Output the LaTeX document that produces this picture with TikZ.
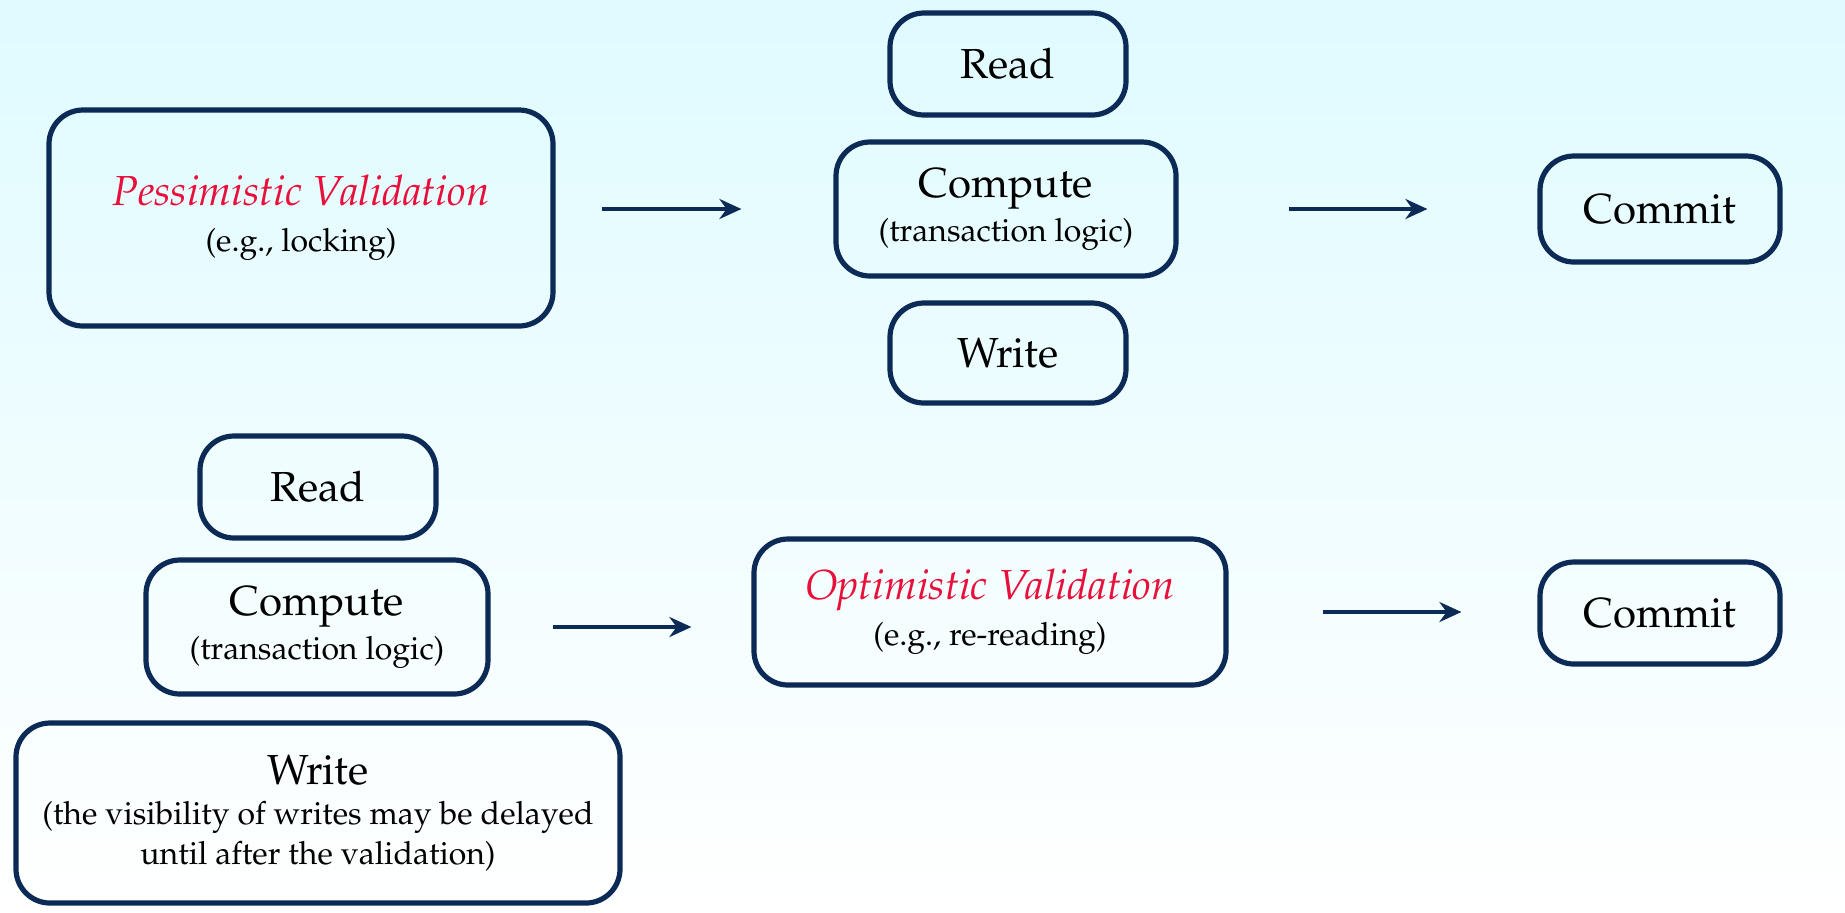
\documentclass[tikz,border=0pt]{standalone}
\usepackage[T1]{fontenc}
\usepackage{mathpazo}
\usetikzlibrary{arrows.meta}

\definecolor{inkblue}{HTML}{0B2A55}
\definecolor{hotred}{HTML}{E8103A}
\definecolor{skytop}{HTML}{DFFBFF}

\newcommand{\bigtext}{\fontsize{21}{20}\selectfont}
\newcommand{\smalltext}{\fontsize{16}{20}\selectfont}

\tikzset{
  stagebox/.style={draw=inkblue, line width=2.6pt, rounded corners=17pt,
    align=center, inner sep=0pt, font=\bigtext},
  flow/.style={draw=inkblue, line width=2pt, -{Stealth[length=11pt,width=10pt]}}
}

\begin{document}
\begin{tikzpicture}[x=0.5pt, y=-0.5pt]
    % Background.
    \shade[top color=skytop, bottom color=white] (0,0) rectangle (1845,912);
    \useasboundingbox (0,0) rectangle (1845,912);

    % Pessimistic row.
    \node[stagebox, minimum width=252pt, minimum height=108pt] (pessim) at (301,218)
        {\textcolor{hotred}{\itshape Pessimistic Validation}\\[3pt]\smalltext (e.g., locking)};
    \node[stagebox, minimum width=118pt, minimum height=51pt] (readA) at (1008,64) {Read};
    \node[stagebox, minimum width=170pt, minimum height=67pt] (computeA) at (1006,209)
        {Compute\\[2pt]\smalltext (transaction logic)};
    \node[stagebox, minimum width=118pt, minimum height=50pt] (writeA) at (1008,353) {Write};
    \node[stagebox, minimum width=120pt, minimum height=53pt] (commitA) at (1660,209) {Commit};

    % Optimistic row.
    \node[stagebox, minimum width=118pt, minimum height=51pt] (readB) at (318,487) {Read};
    \node[stagebox, minimum width=171pt, minimum height=67pt] (computeB) at (317,627)
        {Compute\\[2pt]\smalltext (transaction logic)};
    \node[stagebox, minimum width=302pt, minimum height=90pt] (writeB) at (318,813)
        {Write\\[0pt]\smalltext (the visibility of writes may be delayed\\\smalltext until after the validation)};
    \node[stagebox, minimum width=236pt, minimum height=73pt] (optim) at (990,612)
        {\textcolor{hotred}{\itshape Optimistic Validation}\\[3pt]\smalltext (e.g., re-reading)};
    \node[stagebox, minimum width=120pt, minimum height=51pt] (commitB) at (1660,613) {Commit};

    % Arrows between stages.
    \draw[flow, shorten <=23pt, shorten >=46pt] (pessim.east |- computeA) -- (computeA.west);
    \draw[flow, shorten <=55pt, shorten >=55pt] (computeA.east) -- (commitA.west |- computeA);
    \draw[flow, shorten <=31pt, shorten >=30pt] (computeB.east) -- (computeB.east -| optim.west);
    \draw[flow, shorten <=47pt, shorten >=38pt] (optim.east) -- (optim.east -| commitB.west);

\end{tikzpicture}
\end{document}
